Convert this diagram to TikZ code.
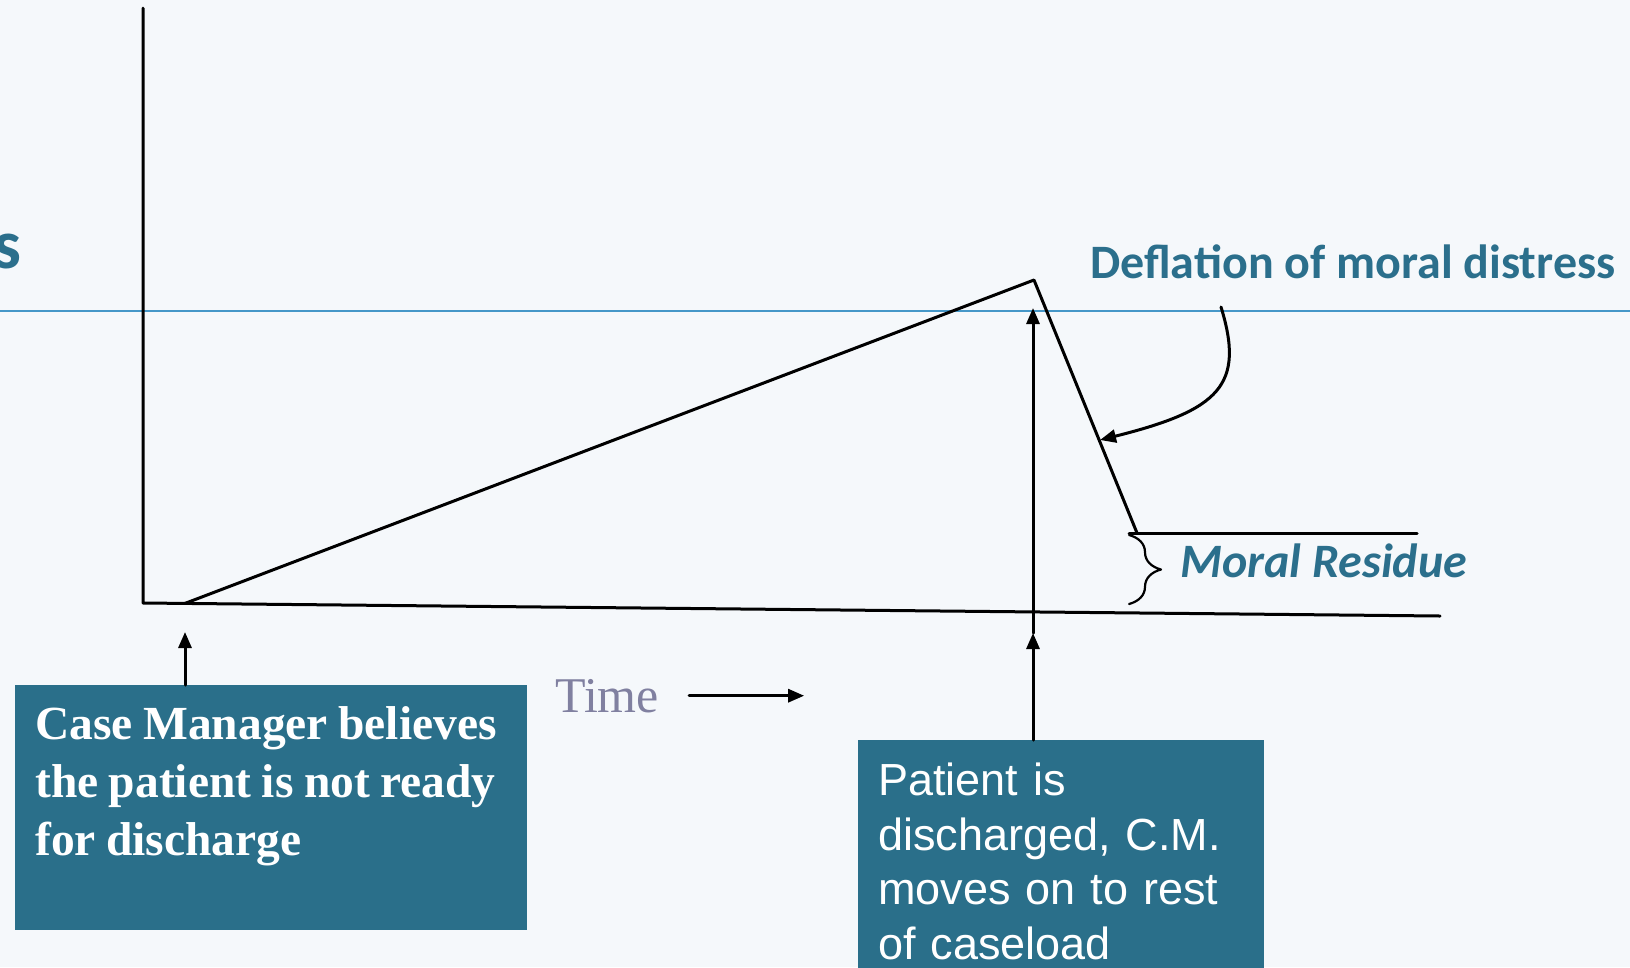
\documentclass[tikz,border=0pt]{standalone}
\usepackage{fontspec}
\setmainfont{Liberation Serif}
\newfontfamily\calibri{Carlito}
\newfontfamily\arialfont{Liberation Sans}
\usetikzlibrary{arrows.meta,decorations.pathreplacing,positioning}
\definecolor{bgc}{HTML}{F5F8FB}
\definecolor{panelc}{HTML}{2A6F8A}
\definecolor{tealtxt}{HTML}{2B6F8C}
\definecolor{refline}{HTML}{4597C8}
\definecolor{timec}{HTML}{8080A0}
\newcommand\narrowspaces{\spaceskip=0.22em plus 0.1em\relax}
\tikzset{
	panel/.style={fill=panelc, inner sep=0pt, anchor=north west},
	paneltext/.style={text=white, inner sep=0pt, anchor=north west, align=left},
	curve/.style={line width=3pt},
	tealbold/.style={text=tealtxt, inner sep=0pt, anchor=base west},
}
\begin{document}
\begin{tikzpicture}[x=1pt,y=-1pt,>={Triangle[length=16pt,width=13pt]}, line join=round, line cap=round]
			\def\W{1630} \def\H{967} % page size
			\fill[bgc] (0,0) rectangle (\W,\H);
			\useasboundingbox (0,0) rectangle (\W,\H);
			% reference level
			\draw[refline, line width=2pt] (0,311)--(\W,311);
			\node[tealbold, anchor=base east, font=\calibri\bfseries\fontsize{70}{84}\selectfont] (s) at (22,268) {s};
			% axes
			\coordinate (top) at (143,8);
			\coordinate (O) at (143,603);
			\coordinate (xend) at (1440,616);
			\draw[curve] (top)--(O)--(xend);
			% distress curve
			\coordinate (start) at (185,603.4);
			\coordinate (peak) at (1034,280);
			\coordinate (floor) at (1137,533);
			\coordinate (resid) at (1129,533);
			\coordinate (residend) at (1417,533);
			\draw[curve] (start)--(peak)--(floor);
			\draw[curve] (resid)--(residend);
			\draw[line width=2.2pt, decorate, decoration={brace, amplitude=32pt}] (1129,535)--(1129,604);
			\node[tealbold, font=\calibri\bfseries\itshape\fontsize{48}{57}\selectfont] (residue) at (1180,577) {Moral Residue};
			\node[tealbold, font=\calibri\bfseries\fontsize{48}{57}\selectfont] (deflation) at (1090,278) {Deflation of moral distress};
			\coordinate (dtail) at (1221,307);
			\coordinate (dtip) at (1100,440);
			\draw[curve,->] (dtail) .. controls (1245,385) and (1220,410) .. (dtip);
			% time axis label
			\node[text=timec, inner sep=0pt, anchor=base west, font=\fontsize{50}{60}\selectfont] (time) at (555,712) {Time};
			\draw[curve,->] ([xshift=30pt]time.east)--++(115,0);
			% boxes
			\node[panel, minimum width=512pt, minimum height=245pt] (cmbox) at (15,685) {};
			\node[paneltext, text width=490pt, font=\bfseries\fontsize{47.5}{58}\selectfont] (cmtext) at (35,706) {\narrowspaces Case Manager believes\\the patient is not ready\\for discharge};
			\node[panel, minimum width=406pt, minimum height=240pt] (dcbox) at (858,740) {};
			\node[paneltext, text width=380pt, font=\arialfont\fontsize{45}{54.5}\selectfont] (dctext) at (878,763) {Patient is\\discharged, C.M.\\moves on to rest\\of caseload};
			% pointers
			\coordinate (cmtip) at (185,632);
			\coordinate (dctip) at (1033,633);
			\coordinate (peaktip) at (1033,308);
			\draw[curve,->] (cmbox.north -| cmtip)--(cmtip);
			\draw[curve,->] (dcbox.north -| dctip)--(dctip);
			\draw[curve,->] (dctip)--(peaktip);
		\end{tikzpicture}
\end{document}
